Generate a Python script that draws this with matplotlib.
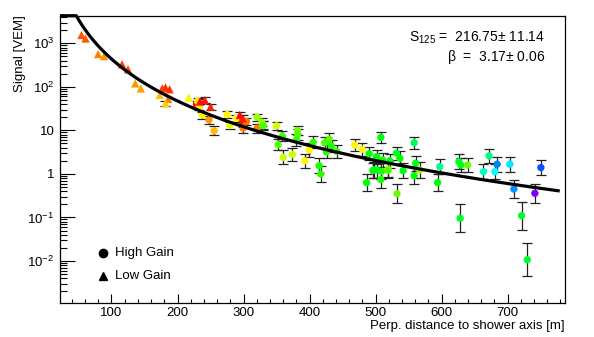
import numpy as np
import matplotlib
matplotlib.use("Agg")
import matplotlib.pyplot as plt
from matplotlib.colors import hsv_to_rgb
from matplotlib.ticker import FixedLocator, FixedFormatter, NullFormatter

plt.rcParams['font.family'] = ['Liberation Sans', 'DejaVu Sans']
plt.rcParams['mathtext.fontset'] = 'custom'
plt.rcParams['mathtext.rm'] = 'Liberation Sans'
plt.rcParams['mathtext.it'] = 'Liberation Sans:italic'

# ---- fit result ----
s125 = 216.75
s125_err = 11.14
beta = 3.17
beta_err = 0.06

# ---- high gain stations: distance [m], signal [VEM], hue [deg], error [dex] ----
hg_r = [228.8, 230.3, 232.7, 237.5, 247.7, 255.5, 275.2, 279.2, 289.0, 299.4,
        299.4, 304.5, 320.6, 320.6, 327.5, 329.0, 330.0, 350.0, 352.4, 359.0,
        360.0, 374.0, 381.8, 382.0, 380.0, 392.9, 399.4, 405.5, 414.5, 416.7,
        423.0, 429.7, 425.8, 433.3, 441.0, 468.6, 479.7, 508.0, 490.3, 501.5,
        510.6, 497.4, 508.0, 486.4, 519.0, 521.7, 531.8, 532.5, 536.8, 541.8,
        558.5, 560.6, 558.5, 567.0, 594.0, 597.4, 626.2, 629.2, 639.4, 628.2,
        663.5, 672.0, 680.8, 684.2, 703.5, 709.5, 721.2, 729.8, 741.4, 750.5,
        496.0, 502.0, 509.0, 519.0]
hg_s = [40, 47, 35, 22.5, 17.5, 9.8, 23, 13, 19, 14.5,
        11.2, 16, 20, 11.2, 15.4, 13.5, 12.8, 12.7, 4.7, 7.4,
        2.4, 2.8, 10, 8.1, 6, 2.0, 3.55, 5.3, 1.55, 1.0,
        5.2, 6.3, 3.2, 4.4, 3.3, 4.6, 3.7, 6.9, 2.9, 2.5,
        2.1, 1.23, 0.74, 0.63, 1.28, 2.0, 3.0, 0.35, 2.3, 1.19,
        5.2, 1.76, 0.91, 1.23, 0.63, 1.47, 1.91, 1.6, 1.6, 0.096,
        1.13, 2.6, 1.13, 1.67, 1.67, 0.45, 0.11, 0.0107, 0.36, 1.4,
        1.2, 1.25, 1.15, 1.2]
hg_hue = [0, 55, 58, 58, 35, 45, 58, 65, 60, 5,
          30, 28, 85, 30, 85, 80, 105, 70, 100, 105,
          72, 72, 95, 100, 110, 58, 58, 110, 115, 110,
          105, 100, 110, 115, 110, 58, 58, 125, 120, 120,
          115, 125, 115, 120, 85, 125, 130, 95, 120, 125,
          140, 125, 120, 85, 120, 155, 130, 125, 95, 130,
          165, 150, 180, 210, 185, 205, 130, 130, 270, 220,
          120, 125, 115, 100]
hg_err = [0.07, 0.07, 0.07, 0.08, 0.09, 0.10, 0.08, 0.09, 0.08, 0.09,
          0.10, 0.09, 0.08, 0.10, 0.09, 0.09, 0.10, 0.10, 0.13, 0.12,
          0.16, 0.15, 0.11, 0.12, 0.13, 0.16, 0.15, 0.14, 0.17, 0.18,
          0.14, 0.13, 0.15, 0.14, 0.15, 0.14, 0.15, 0.13, 0.15, 0.16,
          0.16, 0.18, 0.20, 0.20, 0.18, 0.16, 0.15, 0.22, 0.16, 0.18,
          0.14, 0.17, 0.19, 0.18, 0.20, 0.18, 0.17, 0.17, 0.17, 0.32,
          0.18, 0.16, 0.18, 0.17, 0.17, 0.21, 0.32, 0.38, 0.22, 0.18,
          0.18, 0.18, 0.18, 0.18]

# ---- low gain stations ----
lg_r = [54.5, 60.6, 79.7, 88.8, 116.0, 125.0, 136.0, 144.4, 173.0, 177.0,
        181.8, 188.0, 185.8, 181.8, 217.0, 233.8, 241.4, 250.0, 294.4, 298.5]
lg_s = [1550, 1290, 565, 510, 330, 252, 120, 92, 65, 93,
        97, 88, 53, 42, 57, 46, 50, 35, 22.6, 19]
lg_hue = [20, 20, 30, 35, 15, 15, 35, 38, 45, 15,
          12, 12, 30, 48, 65, 3, 5, 8, 2, 5]
lg_err = [0, 0, 0, 0, 0, 0, 0, 0, 0, 0,
          0, 0, 0, 0.06, 0, 0.06, 0.06, 0.07, 0.07, 0.07]

y_ticks = [1e-2, 1e-1, 1, 10, 1e2, 1e3]
y_labels = ['10$^{-2}$', '10$^{-1}$', '1', '10', '10$^{2}$', '10$^{3}$']


def colours(hues):
    return [hsv_to_rgb((h / 360.0, 1.0, 1.0)) for h in hues]


def bars(s, e):
    s = np.array(s, dtype=float)
    e = np.array(e, dtype=float)
    return [s - s * 10 ** (-e), s * 10 ** e - s]


fig = plt.figure(figsize=(5.94, 3.37), dpi=100)
ax = fig.add_axes([60 / 594, 33.7 / 337, 505 / 594, 287.6 / 337])

xmin, xmax = 22, 787
ymin, ymax = 1.07e-3, 4300

# error bars first, markers on top
ax.errorbar(hg_r, hg_s, yerr=bars(hg_s, hg_err), fmt='none', ecolor='#222222',
            elinewidth=0.9, capsize=3.5, capthick=0.9, zorder=2)
lg_mask = np.array(lg_err) > 0
ax.errorbar(np.array(lg_r)[lg_mask], np.array(lg_s)[lg_mask],
            yerr=bars(np.array(lg_s)[lg_mask], np.array(lg_err)[lg_mask]),
            fmt='none', ecolor='#222222', elinewidth=0.9, capsize=3.5,
            capthick=0.9, zorder=2)
ax.scatter(hg_r, hg_s, s=28, c=colours(hg_hue), marker='o', linewidths=0, zorder=3)
ax.scatter(lg_r, lg_s, s=36, c=colours(lg_hue), marker='^', linewidths=0, zorder=3)

# LDF fit curve
r = np.linspace(xmin, 779, 400)
u = np.log10(r / 125.0)
ldf = 10 ** (np.log10(s125) - beta * u - 0.33 * u ** 2)
ax.plot(r, np.minimum(ldf, ymax), color='black', lw=2.3, zorder=4, clip_on=False,
        solid_capstyle='butt')

ax.set_xlim(xmin, xmax)
ax.set_yscale('log')
ax.set_ylim(ymin, ymax)

ax.xaxis.set_major_locator(FixedLocator([100, 200, 300, 400, 500, 600, 700]))
ax.xaxis.set_minor_locator(FixedLocator(np.arange(40, 787, 20)))
ax.yaxis.set_major_locator(FixedLocator(y_ticks))
ax.yaxis.set_major_formatter(FixedFormatter(y_labels))
minor_y = [m * 10.0 ** d for d in range(-3, 4) for m in range(2, 10)]
ax.yaxis.set_minor_locator(FixedLocator(minor_y))
ax.yaxis.set_minor_formatter(NullFormatter())

ax.tick_params(axis='both', which='both', direction='in', top=False, right=False,
               labelsize=9.5, width=0.8, color='black')
ax.tick_params(axis='y', which='major', length=11, pad=4)
ax.tick_params(axis='y', which='minor', length=5)
ax.tick_params(axis='x', which='major', length=6.5, pad=2.5)
ax.tick_params(axis='x', which='minor', length=3)
for sp in ax.spines.values():
    sp.set_linewidth(0.9)

fig.text(20 / 594, 1 - 15 / 337, 'Signal [VEM]', rotation=90, ha='center',
         va='top', fontsize=9.5)
fig.text(565 / 594, 1 - 326 / 337, 'Perp. distance to shower axis [m]',
         ha='right', va='center', fontsize=9.5)

# fit parameters
ax.text(545 / 594, 1 - 37.5 / 337,
        'S$_{125}$ =  %.2f$\\pm$ %.2f' % (s125, s125_err),
        transform=fig.transFigure, ha='right', va='center', fontsize=10)
ax.text(545 / 594, 1 - 57 / 337,
        '\u03b2  =  %.2f$\\pm$ %.2f' % (beta, beta_err),
        transform=fig.transFigure, ha='right', va='center', fontsize=10)

# legend by hand
ax.plot([102.5 / 594], [1 - 252.7 / 337], 'o', color='black', ms=6,
        transform=fig.transFigure, clip_on=False)
ax.plot([102.5 / 594], [1 - 275.7 / 337], '^', color='black', ms=6,
        transform=fig.transFigure, clip_on=False)
fig.text(115 / 594, 1 - 252.7 / 337, 'High Gain', ha='left', va='center', fontsize=9.5)
fig.text(115 / 594, 1 - 275.7 / 337, 'Low Gain', ha='left', va='center', fontsize=9.5)

fig.savefig('out.png', dpi=100)
